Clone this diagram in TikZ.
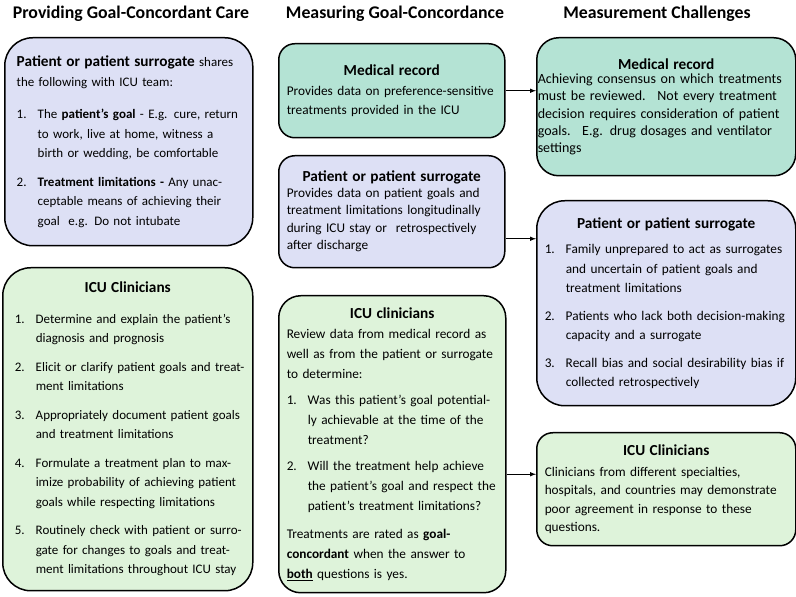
\documentclass[tikz,border=0pt]{standalone}
\usepackage{fontspec}
\setmainfont{Carlito}
\usetikzlibrary{arrows,positioning,calc}

\definecolor{lavbg}{RGB}{221,224,245}
\definecolor{tealbg}{RGB}{180,227,212}
\definecolor{greenbg}{RGB}{222,243,218}

\newcommand{\numitem}[2]{\par\hangindent=21pt\hangafter=1\noindent\makebox[21pt][l]{#1}#2\par}
\newcommand{\boxtitle}[1]{{\centering\fontsize{15.3}{17}\selectfont\bfseries #1\par}}
\newcommand{\colhead}[1]{\fontsize{17.8}{20}\selectfont\bfseries #1}

\begin{document}
\begin{tikzpicture}[x=1pt,y=1pt,>=latex,
  box/.style={draw=black,line width=1.5pt,anchor=north west,inner xsep=8pt,inner ysep=4pt,
    align=left,font=\fontsize{13.3}{19.5}\selectfont},
  arr/.style={->,line width=1pt}]
\useasboundingbox (0,0) rectangle (796,597);

% column headings
\node[name=hleft] at (131,583) {\colhead{Providing Goal-Concordant Care}};
\node[name=hmid] at (395,583) {\colhead{Measuring Goal-Concordance}};
\node[name=hright] at (657,583) {\colhead{Measurement Challenges}};

% left column
\node[box,fill=lavbg,name=lpat,rounded corners=28pt,minimum width=248pt,minimum height=208pt,text width=234pt,inner xsep=7pt,font=\fontsize{13}{19.5}\selectfont] at (4,560) {%
\leftskip=5pt
{\fontsize{15.3}{17}\selectfont\bfseries Patient or patient surrogate} shares\\ the following with ICU team:\par
\vspace{13pt}
\numitem{1.}{The \textbf{patient’s goal} - E.g. cure, return\newline to work, live at home, witness a\newline birth or wedding, be comfortable}
\vspace{9pt}
\numitem{2.}{\textbf{Treatment limitations -} Any unac-\newline ceptable means of achieving their\newline goal \ e.g. Do not intubate}};

\node[box,fill=greenbg,name=lclin,rounded corners=28pt,minimum width=250pt,minimum height=323pt,text width=236pt,inner xsep=7pt,font=\fontsize{13}{19.5}\selectfont] at (2,330) {%
\boxtitle{ICU Clinicians}
\leftskip=5pt
\vspace{11pt}
\numitem{1.}{Determine and explain the patient’s\newline diagnosis and prognosis}
\vspace{9pt}
\numitem{2.}{Elicit or clarify patient goals and treat-\newline ment limitations}
\vspace{9pt}
\numitem{3.}{Appropriately document patient goals\newline and treatment limitations}
\vspace{9pt}
\numitem{4.}{Formulate a treatment plan to max-\newline imize probability of achieving patient\newline goals while respecting limitations}
\vspace{9pt}
\numitem{5.}{Routinely check with patient or surro-\newline gate for changes to goals and treat-\newline ment limitations throughout ICU stay}};

% middle column
\node[box,fill=tealbg,name=mmed,rounded corners=16pt,minimum width=226pt,minimum height=94pt,text width=210pt] at (278,554) {%
\boxtitle{Medical record}
Provides data on preference-sensitive\\ treatments provided in the ICU};

\node[box,fill=lavbg,name=mpat,rounded corners=16pt,minimum width=226pt,minimum height=112pt,text width=210pt,font=\fontsize{13.3}{17.5}\selectfont] at (278,442) {%
\boxtitle{Patient or patient surrogate}
\vspace{-2pt}
Provides data on patient goals and\\ treatment limitations longitudinally\\ during ICU stay or \ retrospectively\\ after discharge};

\node[box,fill=greenbg,name=mclin,rounded corners=22pt,minimum width=227pt,minimum height=297pt,text width=211pt,font=\fontsize{13.3}{20}\selectfont] at (278,302) {%
\boxtitle{ICU clinicians}
Review data from medical record as\\ well as from the patient or surrogate\\ to determine:\par
\vspace{6pt}
\numitem{1.}{Was this patient’s goal potential-\newline ly achievable at the time of the\newline treatment?}
\vspace{6pt}
\numitem{2.}{Will the treatment help achieve\newline the patient’s goal and respect the\newline patient’s treatment limitations?}
\vspace{8pt}
Treatments are rated as \textbf{goal-}\\ \textbf{concordant} when the answer to\\ \underline{\textbf{both}} questions is yes.};

% right column
\node[box,fill=tealbg,name=rmed,rounded corners=22pt,minimum width=259pt,minimum height=138pt,text width=257pt,inner xsep=1pt,font=\fontsize{14}{17.3}\selectfont] at (536,560) {%
\boxtitle{Medical record}
\vspace{-3pt}
Achieving consensus on which treatments\\ must be reviewed. \ Not every treatment\\ decision requires consideration of patient\\ goals. \ E.g. drug dosages and ventilator\\ settings};

\node[box,fill=lavbg,name=rpat,rounded corners=28pt,minimum width=259pt,minimum height=205pt,text width=243pt] at (536,397) {%
\boxtitle{Patient or patient surrogate}
\vspace{6pt}
\numitem{1.}{Family unprepared to act as surrogates\newline and uncertain of patient goals and\newline treatment limitations}
\vspace{8pt}
\numitem{2.}{Patients who lack both decision-making\newline capacity and a surrogate}
\vspace{8pt}
\numitem{3.}{Recall bias and social desirability bias if\newline collected retrospectively}};

\node[box,fill=greenbg,name=rclin,rounded corners=16pt,minimum width=259pt,minimum height=113pt,text width=243pt,font=\fontsize{13.3}{18.5}\selectfont] at (536,165) {%
\boxtitle{ICU Clinicians}
\vspace{2pt}
Clinicians from different specialties,\\ hospitals, and countries may demonstrate\\ poor agreement in response to these\\ questions.};

% connections
\draw[arr] (mmed.east) -- (mmed.east -| rmed.west);
\draw[arr] ([yshift=-27pt]mpat.east) -- ([yshift=-27pt]mpat.east -| rpat.west);
\draw[arr] ([yshift=-30pt]mclin.east) -- ([yshift=-30pt]mclin.east -| rclin.west);

\end{tikzpicture}
\end{document}
